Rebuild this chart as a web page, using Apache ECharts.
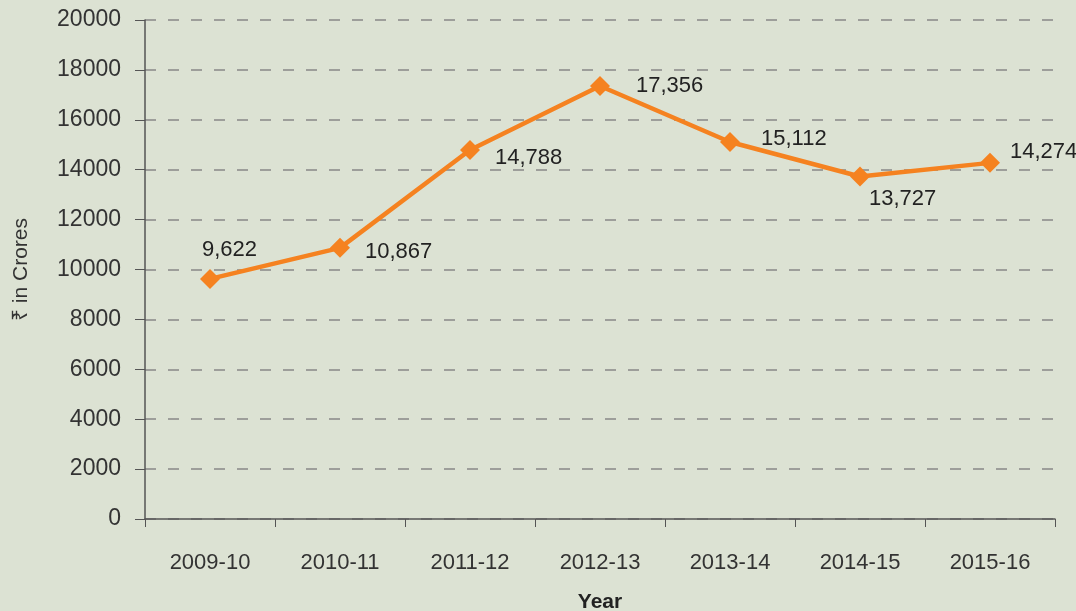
<!DOCTYPE html>
<html>
<head>
<meta charset="utf-8">
<script src="https://cdn.jsdelivr.net/npm/echarts@6/dist/echarts.min.js"></script>
<style>html,body{margin:0;padding:0;background:#dce2d3;}#c{width:1076px;height:611px;}</style>
</head>
<body>
<div id="c"></div>
<script>
const categories = ['2009-10','2010-11','2011-12','2012-13','2013-14','2014-15','2015-16'];
const values = [9622, 10867, 14788, 17356, 15112, 13727, 14274];
const labelOffsets = [[-30,-29],[3,4],[3,8],[14,0],[9,-3],[-13,22],[-2,-11]];

const chart = echarts.init(document.getElementById('c'), null, {renderer:'canvas'});
const font = "'Liberation Sans', 'Noto Sans', sans-serif";
chart.setOption({
  backgroundColor: '#dce2d3',
  animation: false,
  grid: {left:145, right:21, top:20, bottom:92, containLabel:false, outerBoundsMode:'none'},
  xAxis: {
    type:'category', data: categories, boundaryGap:true,
    name:'Year', nameLocation:'middle', nameGap:73, nameMoveOverlap:false,
    nameTextStyle:{fontFamily:font, fontSize:21, fontWeight:'bold', color:'#222'},
    axisLine:{lineStyle:{color:'#555', width:1.5}},
    axisTick:{show:true, length:8, lineStyle:{color:'#555'}},
    axisLabel:{fontFamily:font, fontSize:22, color:'#333', margin:33}
  },
  yAxis: {
    type:'value', min:0, max:20000, interval:2000,
    name:'₹ in Crores', nameLocation:'middle', nameGap:113, nameRotate:90, nameMoveOverlap:false,
    nameTextStyle:{fontFamily:font, fontSize:21, color:'#333'},
    axisLine:{show:true, lineStyle:{color:'#555', width:1.5}},
    axisTick:{show:true, inside:false, length:10, lineStyle:{color:'#555'}},
    axisLabel:{fontFamily:font, fontSize:23, color:'#333', margin:24, formatter: v => String(v)},
    splitLine:{show:true, lineStyle:{color:'#888', type:[11,12], width:1.5}}
  },
  series: [{
    type:'line', data: values.map((v,i)=>({value:v, label:{offset:labelOffsets[i]}})),
    symbol:'diamond', symbolSize:20,
    lineStyle:{color:'#f58220', width:4.5},
    itemStyle:{color:'#f58220'},
    label:{show:true, position:'right', distance:12, fontFamily:font, fontSize:22, color:'#222',
      formatter: p => p.value.toLocaleString('en-US')}
  }]
});
</script>
</body>
</html>
